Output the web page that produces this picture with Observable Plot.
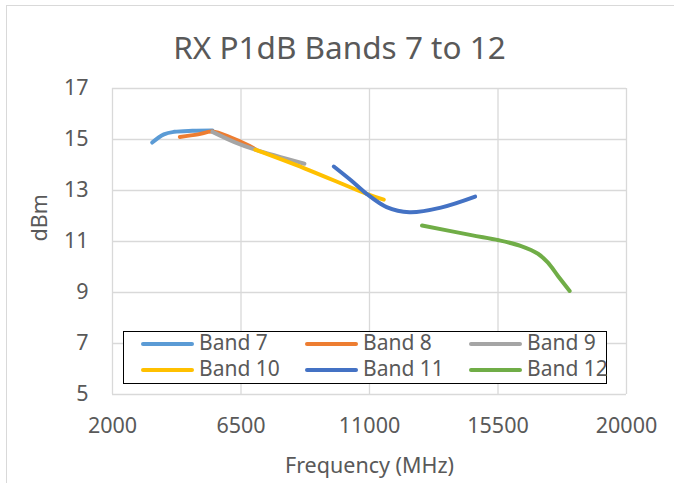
<!DOCTYPE html>
<html>
<head>
<meta charset="utf-8">
<script src="https://cdn.jsdelivr.net/npm/d3@7"></script>
<script src="https://cdn.jsdelivr.net/npm/@observablehq/plot@0.6"></script>
<style>
  html, body { margin: 0; padding: 0; background: #fff; }
  #wrap { position: relative; width: 674px; height: 483px; overflow: hidden; font-family: "Noto Sans", "Open Sans", sans-serif; }
  #border { position: absolute; left: 6px; top: 5px; width: 700px; height: 500px; border: 1px solid #d9d9d9; box-sizing: border-box; }
  #chart { position: absolute; left: 0; top: 0; }
  #legend { position: absolute; left: 123px; top: 331px; width: 484px; height: 53px; border: 1.5px solid #000; background: #fff; box-sizing: border-box; }
  .sw { position: absolute; height: 4px; width: 53px; border-radius: 2px; }
  .lt { position: absolute; font-size: 21px; color: #595959; line-height: 21px; white-space: nowrap; }
</style>
</head>
<body>
<div id="wrap">
  <div id="border"></div>
  <div id="chart"></div>
  <div id="legend"></div>
</div>
<script>
const bandNames = ["Band 7", "Band 8", "Band 9", "Band 10", "Band 11", "Band 12"];
const bandColors = ["#5B9BD5", "#ED7D31", "#A5A5A5", "#FFC000", "#4472C4", "#70AD47"];

const band7Freq = [3390, 3800, 4160, 4800, 5500];
const band7Dbm  = [14.88, 15.2, 15.3, 15.34, 15.35];
const band8Freq = [4360, 5000, 5500, 6150, 6790, 7000];
const band8Dbm  = [15.1, 15.2, 15.31, 15.07, 14.75, 14.62];
const band9Freq = [5500, 6270, 7000, 8720];
const band9Dbm  = [15.3, 14.9, 14.6, 14.05];
const band10Freq = [7000, 8720, 10900, 11500];
const band10Dbm  = [14.6, 13.87, 12.87, 12.64];
const band11Freq = [9750, 10350, 10900, 11600, 12400, 13500, 14700];
const band11Dbm  = [13.94, 13.4, 12.87, 12.35, 12.15, 12.33, 12.76];
const band12Freq = [12840, 14565, 15530, 16310, 16900, 17250, 17600, 18010];
const band12Dbm  = [11.63, 11.25, 11.05, 10.82, 10.52, 10.17, 9.65, 9.06];

const xTicks = [2000, 6500, 11000, 15500, 20000];
const yTicks = [5, 7, 9, 11, 13, 15, 17];

const series = [
  [band7Freq, band7Dbm], [band8Freq, band8Dbm], [band9Freq, band9Dbm],
  [band10Freq, band10Dbm], [band11Freq, band11Dbm], [band12Freq, band12Dbm]
];
const rows = series.flatMap(([f, v], i) => f.map((x, j) => ({band: bandNames[i], x, y: v[j]})));

const textColor = "#595959";
const plot = Plot.plot({
  width: 674,
  height: 483,
  marginLeft: 112,
  marginRight: 48,
  marginTop: 88,
  marginBottom: 89,
  style: { fontFamily: "'Noto Sans', 'Open Sans', sans-serif", background: "transparent", color: textColor },
  x: { domain: [2000, 20000], ticks: xTicks },
  y: { domain: [5, 17], ticks: yTicks },
  color: { domain: bandNames, range: bandColors },
  marks: [
    Plot.gridX(xTicks, { stroke: "#d9d9d9", strokeOpacity: 1, strokeWidth: 1.3 }),
    Plot.gridY(yTicks, { stroke: "#d9d9d9", strokeOpacity: 1, strokeWidth: 1.3 }),
    Plot.axisX(xTicks, { tickSize: 0, tickPadding: 23, fontSize: 21.5, fill: textColor, label: null, tickFormat: d => String(d) }),
    Plot.axisY(yTicks, { tickSize: 0, tickPadding: 24, fontSize: 21.5, fill: textColor, label: null }),
    Plot.line(rows, { x: "x", y: "y", z: "band", stroke: "band", strokeWidth: 4, curve: "catmull-rom", strokeLinecap: "round", strokeLinejoin: "round" }),
    Plot.text(["RX P1dB Bands 7 to 12"], { frameAnchor: "top", dx: -30, dy: -40, fontSize: 31.5, fill: textColor, lineAnchor: "middle" }),
    Plot.text(["Frequency (MHz)"], { frameAnchor: "bottom", dy: 72, fontSize: 21.5, fill: textColor, lineAnchor: "middle" }),
    Plot.text(["dBm"], { frameAnchor: "left", dx: -72, rotate: -90, fontSize: 21.5, fill: textColor, lineAnchor: "middle" })
  ]
});
document.getElementById("chart").appendChild(plot);

// Legend
const legend = document.getElementById("legend");
const colLeft = [17, 181, 345];
const rowTop = [12, 38];
bandNames.forEach((name, i) => {
  const c = i % 3, r = Math.floor(i / 3);
  const sw = document.createElement("div");
  sw.className = "sw";
  sw.style.background = bandColors[i];
  sw.style.left = colLeft[c] + "px";
  sw.style.top = (rowTop[r] - 2) + "px";
  legend.appendChild(sw);
  const t = document.createElement("div");
  t.className = "lt";
  t.textContent = name;
  t.style.left = (colLeft[c] + 58) + "px";
  t.style.top = (rowTop[r] - 12) + "px";
  legend.appendChild(t);
});
</script>
</body>
</html>
